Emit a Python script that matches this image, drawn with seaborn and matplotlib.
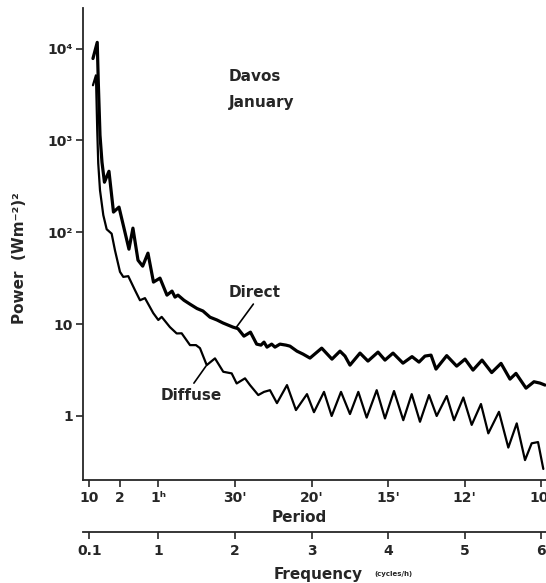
import matplotlib
matplotlib.use('Agg')
import matplotlib.pyplot as plt
from matplotlib.ticker import NullLocator
import pandas as pd
import seaborn as sns

# spectra: frequency (cycles/h), power (W m-2)^2
direct_freq = [0.146, 0.202, 0.215, 0.238, 0.264, 0.296, 0.355, 0.414, 0.486, 0.551,
               0.616, 0.668, 0.734, 0.795, 0.864, 0.936, 1.021, 1.112, 1.178, 1.217,
               1.256, 1.334, 1.413, 1.504, 1.582, 1.674, 1.765, 1.843, 1.974, 2.039,
               2.117, 2.202, 2.283, 2.339, 2.379, 2.418, 2.479, 2.522, 2.587, 2.666,
               2.718, 2.809, 2.888, 2.979, 3.132, 3.266, 3.371, 3.436, 3.501, 3.632,
               3.736, 3.867, 3.958, 4.063, 4.193, 4.311, 4.402, 4.480, 4.559, 4.624,
               4.764, 4.894, 5.003, 5.107, 5.225, 5.351, 5.473, 5.590, 5.668, 5.799,
               5.903, 5.982, 6.047]
direct_power = [7800, 11700, 4520, 1140, 579, 351, 462, 166, 188, 111,
                65.5, 111, 49.7, 42.8, 59.3, 28.7, 31.7, 20.7, 22.9, 19.7,
                20.7, 18.2, 16.5, 14.8, 13.9, 11.9, 11.1, 10.3, 9.28, 8.93,
                7.40, 8.18, 6.06, 5.91, 6.37, 5.62, 6.06, 5.62, 6.06, 5.91,
                5.76, 5.08, 4.72, 4.27, 5.48, 4.16, 5.08, 4.49, 3.58, 4.84,
                3.96, 4.96, 4.06, 4.84, 3.76, 4.43, 3.86, 4.49, 4.60, 3.24,
                4.54, 3.49, 4.16, 3.16, 4.06, 2.97, 3.74, 2.52, 2.91, 2.01,
                2.36, 2.28, 2.17]

diffuse_freq = [0.146, 0.185, 0.202, 0.215, 0.238, 0.281, 0.325, 0.390, 0.433, 0.499,
                0.542, 0.607, 0.695, 0.760, 0.825, 0.933, 0.999, 1.043, 1.151, 1.239,
                1.304, 1.413, 1.491, 1.543, 1.631, 1.739, 1.847, 1.957, 2.022, 2.131,
                2.196, 2.304, 2.379, 2.457, 2.548, 2.679, 2.796, 2.940, 3.031, 3.162,
                3.262, 3.384, 3.501, 3.610, 3.719, 3.850, 3.958, 4.076, 4.197, 4.307,
                4.415, 4.533, 4.633, 4.764, 4.859, 4.981, 5.090, 5.211, 5.307, 5.446,
                5.568, 5.678, 5.786, 5.873, 5.956, 6.025]
diffuse_power = [3990, 5120, 1290, 565, 287, 154, 108, 96.6, 63.9, 37.1,
                 32.7, 33.3, 23.4, 18.2, 19.2, 13.2, 11.1, 12.0, 9.28, 7.92,
                 7.95, 5.91, 5.91, 5.48, 3.58, 4.24, 3.03, 2.91, 2.26, 2.57,
                 2.17, 1.69, 1.83, 1.91, 1.38, 2.17, 1.16, 1.73, 1.10, 1.83,
                 1.00, 1.83, 1.05, 1.83, 0.96, 1.91, 0.94, 1.87, 0.90, 1.73,
                 0.865, 1.69, 1.00, 1.65, 0.90, 1.59, 0.80, 1.35, 0.647, 1.11,
                 0.453, 0.831, 0.331, 0.504, 0.520, 0.265]

period_ticks = [0.1, 0.5, 1, 2, 3, 4, 5, 6]
period_labels = ['10', '2', '1ʰ', "30'", "20'", "15'", "12'", "10'"]
freq_ticks = [0.1, 1, 2, 3, 4, 5, 6]
freq_labels = ['0.1', '1', '2', '3', '4', '5', '6']
power_ticks = [1, 10, 100, 1000, 10000]
power_labels = ['1', '10', '10²', '10³', '10⁴']


def main():
    sns.set_style('ticks')
    plt.rcParams['font.family'] = ['DejaVu Sans']
    plt.rcParams['font.weight'] = 'bold'
    plt.rcParams['axes.linewidth'] = 1.3

    df = pd.concat([
        pd.DataFrame({'freq': direct_freq, 'power': direct_power, 'series': 'Direct'}),
        pd.DataFrame({'freq': diffuse_freq, 'power': diffuse_power, 'series': 'Diffuse'}),
    ])

    fig = plt.figure(figsize=(5.46, 5.83), dpi=100)
    ax = fig.add_axes([0.152, 0.1767, 0.848, 0.809])
    sns.lineplot(data=df[df.series == 'Direct'], x='freq', y='power', ax=ax,
                 color='black', lw=2.3, sort=False, estimator=None)
    sns.lineplot(data=df[df.series == 'Diffuse'], x='freq', y='power', ax=ax,
                 color='black', lw=1.6, sort=False, estimator=None)

    ax.set_yscale('log')
    ax.set_xlim(0.016, 6.06)
    ax.set_ylim(0.201, 27450)
    sns.despine(ax=ax)
    ax.set_xlabel('')
    ax.set_ylabel('')

    ax.set_yticks(power_ticks, power_labels)
    ax.yaxis.set_minor_locator(NullLocator())
    ax.set_xticks(period_ticks, period_labels)
    ax.tick_params(axis='both', direction='out', length=5, width=1.2, labelsize=10)
    ax.tick_params(axis='x', pad=3)
    ax.tick_params(axis='y', pad=2)

    # second scale underneath: frequency
    sec = ax.secondary_xaxis(-0.11)
    sec.set_xticks(freq_ticks, freq_labels)
    sec.tick_params(direction='out', length=5, width=1.2, labelsize=10, pad=4)
    sec.spines['bottom'].set_linewidth(1.3)

    fig.text(299 / 546, 1 - 517 / 583, 'Period', ha='center', va='center', fontsize=11)
    fig.text(318 / 546, 1 - 575 / 583, 'Frequency', ha='center', va='center', fontsize=11)
    fig.text(374 / 546, 1 - 574 / 583, '(cycles/h)', ha='left', va='center', fontsize=5)
    fig.text(20 / 546, 1 - 258 / 583, 'Power  (Wm⁻²)²', rotation=90,
             ha='center', va='center', fontsize=11)

    ax.text(0.315, 0.855, 'Davos', transform=ax.transAxes, ha='left', va='center', fontsize=11)
    ax.text(0.315, 0.80, 'January', transform=ax.transAxes, ha='left', va='center', fontsize=11)

    ax.annotate('Direct', xy=(2.022, 9.35), xytext=(2.255, 22.3), ha='center', va='center',
                fontsize=11, arrowprops=dict(arrowstyle='-', color='black', lw=1.2,
                                             relpos=(0.54, 0.0), shrinkA=1, shrinkB=0))
    ax.annotate('Diffuse', xy=(1.621, 3.49), xytext=(1.423, 1.69), ha='center', va='center',
                fontsize=11, arrowprops=dict(arrowstyle='-', color='black', lw=1.2,
                                             relpos=(0.5, 1.0), shrinkA=1, shrinkB=0))

    fig.savefig('out.png', dpi=100)
    plt.close(fig)


if __name__ == '__main__':
    main()
